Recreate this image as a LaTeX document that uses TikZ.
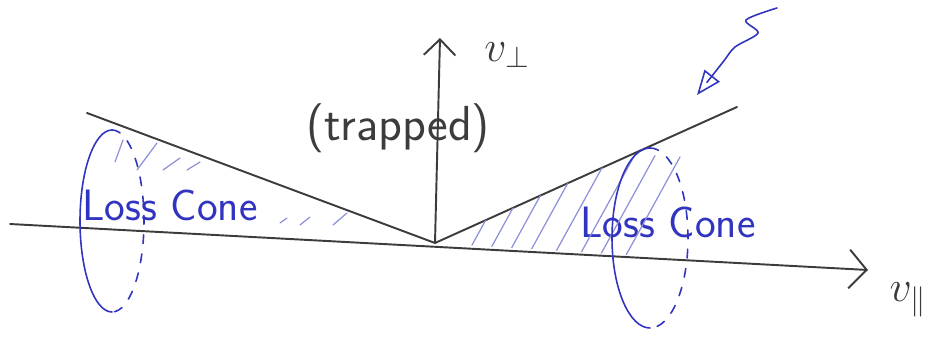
\documentclass[tikz,border=0pt]{standalone}
\usetikzlibrary{arrows.meta}
\definecolor{pen}{RGB}{48,52,190}
\definecolor{lead}{RGB}{60,60,60}
\begin{document}
\begin{tikzpicture}[x=0.02cm,y=-0.02cm,line cap=round,
    axis/.style={lead,line width=1.1pt},
    hatch/.style={pen!55,line width=0.7pt},
    loss/.style={pen,font=\sffamily\fontsize{25}{27}\selectfont}]
        \useasboundingbox(0,0)rectangle(936,338);
        \coordinate(W)at(10,224);
        \coordinate(E)at(868,270);
        \coordinate(O)at(435,243);
        \coordinate(N)at(440,38);
        \coordinate(L)at(87,113);
        \coordinate(R)at(737,107);
        \draw[axis,-{Straight Barb[length=10pt,width=22pt,line width=1.1pt]}](W)--(E);
        \draw[axis,-{Straight Barb[length=9pt,width=18pt,line width=1.1pt]}](O)--(N);
        \draw[axis](L)--(O)--(R);
        \node[lead,font=\fontsize{24}{26}\selectfont](vperp)at(507,55){$v_\perp$};
        \node[lead,font=\fontsize{24}{26}\selectfont](vpar)at(908,300){$v_\parallel$};
        \node[lead,font=\sffamily\fontsize{28}{30}\selectfont](trapped)at(398,128){(trapped)};
        \node[loss](lossL)at(170,205){Loss Cone};
        \node[loss](lossR)at(668,222){Loss Cone};
        % hatching in the cones
        \foreach \x/\y/\dx/\dy in {115/162/8/-22,137/170/20/-27,163/170/17/-12,187/170/13/-8,280/223/7/-5,300/225/10/-8,333/225/14/-12}
            \draw[hatch](\x,\y)--++(\dx,\dy);
        \begin{scope}
            \clip(O)--(R)--(737,262)--cycle;
            \foreach \x in {470,490,510,530,555,580,600,625}
                \draw[hatch](\x,{224+0.0536*(\x-10)})--++(55,-100);
        \end{scope}
        % the two rings
        \draw[pen,line width=0.9pt](112,312)arc[start angle=90,end angle=270,x radius=32,y radius=91];
        \draw[pen,line width=0.9pt,dashed,dash pattern=on 5pt off 6pt](112,130)arc[start angle=-90,end angle=90,x radius=32,y radius=91];
        \draw[pen,line width=0.9pt](650,328)arc[start angle=90,end angle=270,x radius=38,y radius=90];
        \draw[pen,line width=0.9pt,dashed,dash pattern=on 5pt off 6pt](650,148)arc[start angle=-90,end angle=90,x radius=38,y radius=90];
        % incoming wave
        \draw[pen,line width=0.9pt,-{Triangle[open,length=14pt,width=11pt,line width=0.9pt]}]
            plot[smooth]coordinates{(777,8)(746,20)(758,33)(735,47)(723,62)(697,95)};
    \end{tikzpicture}
\end{document}
